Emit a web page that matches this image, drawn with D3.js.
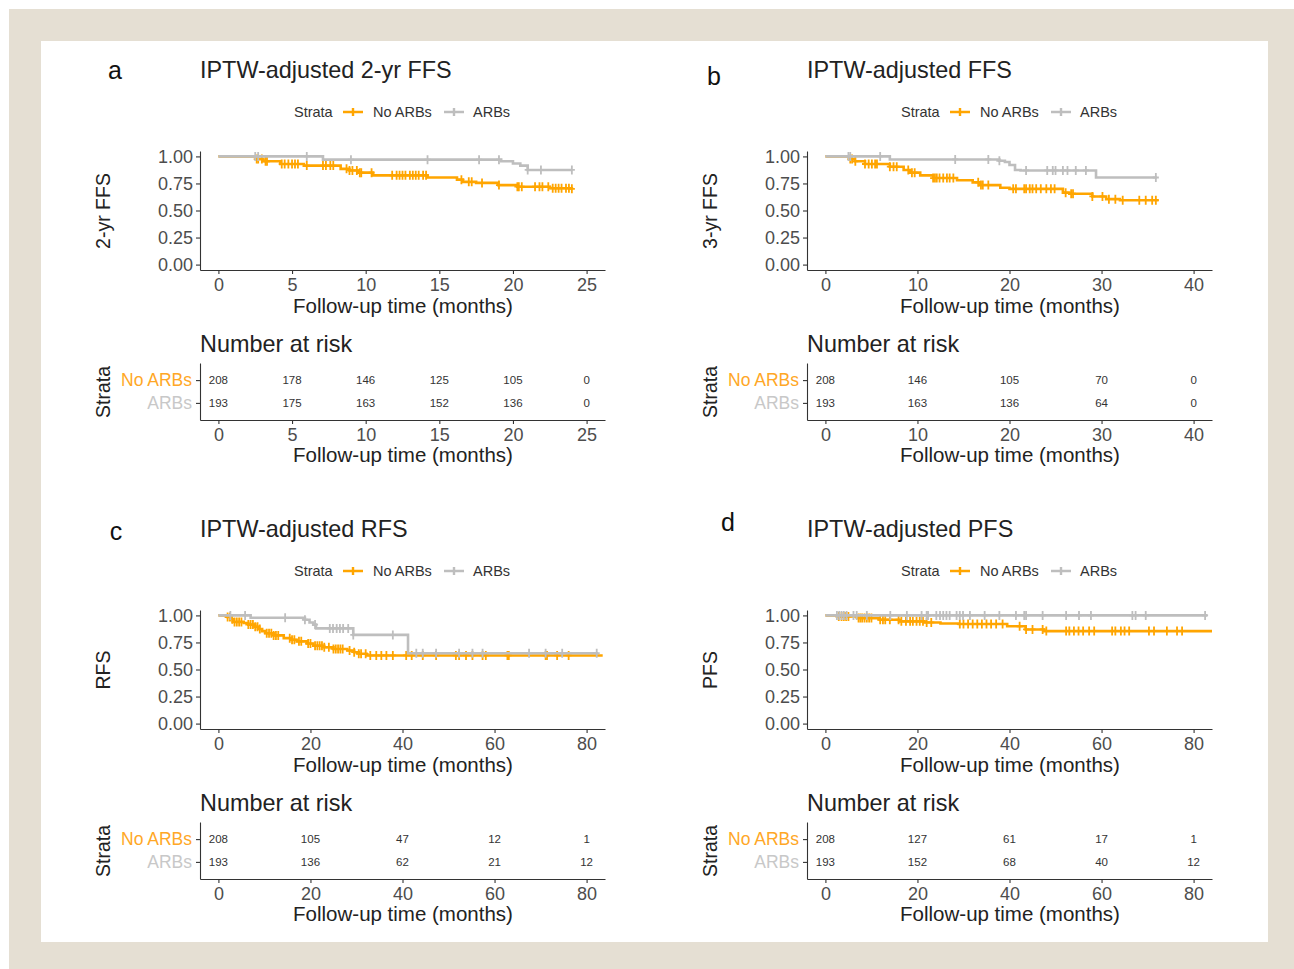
<!DOCTYPE html>
<html>
<head>
<meta charset="utf-8">
<script src="https://cdn.jsdelivr.net/npm/d3@7"></script>
<style>
body { margin: 0; background: #fff; }
text { font-family: "Liberation Sans", Arial, sans-serif; }
</style>
</head>
<body>
<div id="chart"></div>
<script>

// ---- data ----
var strata = ["No ARBs", "ARBs"];

// panel a : 2-yr FFS
var aXTicks = [0, 5, 10, 15, 20, 25];
var aNoSteps = [[0,1],[2.6,0.975],[3.0,0.955],[4.2,0.93],[5.8,0.915],[8.3,0.885],[8.9,0.87],[9.5,0.85],[10.5,0.825],[14.2,0.805],[16.2,0.785],[16.6,0.765],[17.5,0.755],[19.0,0.735],[20.3,0.72],[22.5,0.705],[24,0.70]];
var aNoCensor = [2.6,2.7,2.95,3.2,3.3,4.3,4.5,4.75,5.0,5.2,5.4,6.0,7.1,7.3,7.6,7.8,8.7,8.9,9.1,9.4,9.6,9.7,10.4,11.8,12.1,12.3,12.5,12.7,13.0,13.2,13.4,13.6,13.9,14.1,16.5,17.0,17.2,17.9,19.05,20.3,20.4,20.6,21.5,21.8,22.0,22.4,22.7,22.9,23.1,23.3,23.6,23.8,24.0];
var aArbSteps = [[0,1],[7.1,0.97],[19.2,0.955],[20.0,0.935],[20.5,0.915],[21.0,0.875],[24,0.875]];
var aArbCensor = [2.5,2.7,6.0,9.0,14.2,17.7,19.05,21.0,21.9,24.0];
var aRiskNo = [208, 178, 146, 125, 105, 0];
var aRiskArb = [193, 175, 163, 152, 136, 0];

// panel b : FFS (3-yr)
var bXTicks = [0, 10, 20, 30, 40];
var bNoSteps = [[0,1],[2.7,0.975],[3.2,0.955],[4.3,0.93],[7.0,0.905],[8.5,0.875],[9.2,0.85],[10.3,0.825],[11.7,0.8],[14.3,0.78],[16.0,0.76],[16.8,0.735],[19.0,0.71],[20.0,0.70],[25.8,0.665],[26.5,0.655],[29.0,0.63],[30.5,0.605],[32.0,0.595],[36.2,0.595]];
var bNoCensor = [2.7,2.9,3.25,4.3,4.7,5.05,5.4,5.6,7.0,7.4,7.75,9.0,9.4,9.7,11.7,11.9,12.1,12.4,12.8,13.2,13.5,13.9,16.6,16.9,17.1,17.7,20.4,20.7,21.6,21.8,22.2,22.5,22.9,23.4,24.0,24.5,24.9,26.1,26.7,26.9,29.0,30.1,30.8,31.5,32.3,34.1,34.8,35.5,35.9];
var bArbSteps = [[0,1],[7.0,0.972],[18.9,0.96],[19.5,0.948],[20.0,0.92],[20.6,0.875],[21.2,0.87],[29.4,0.805],[36,0.805]];
var bArbCensor = [2.5,2.7,5.95,14.1,17.7,18.9,21.8,24.1,24.7,25.0,25.8,26.3,27.2,28.3,35.9];
var bRiskNo = [208, 146, 105, 70, 0];
var bRiskArb = [193, 163, 136, 64, 0];

// panel c : RFS
var cXTicks = [0, 20, 40, 60, 80];
var cNoSteps = [[0,1],[1.9,0.985],[2.6,0.965],[3.3,0.94],[5.5,0.93],[6.5,0.915],[8.0,0.895],[8.6,0.875],[9.5,0.855],[10.2,0.835],[12.0,0.815],[14.2,0.79],[15.8,0.775],[17.0,0.76],[19.2,0.74],[20.6,0.72],[23,0.705],[25,0.69],[28,0.675],[29.5,0.66],[30.5,0.645],[32.2,0.63],[83.5,0.63]];
var cNoCensor = [2.0,2.5,3.0,3.5,4.0,4.5,5.0,6.5,7.0,7.5,8.0,8.5,9.0,10.5,11.0,11.5,12.0,12.5,13.0,15.5,16.0,16.5,17.5,18.0,19.5,20.0,21.0,21.5,22.0,22.5,23.0,24.0,25.0,25.5,26.0,26.5,27.0,28.5,29.5,30.5,31.0,32.0,33.0,34.3,35.4,36.5,37.9,40.8,42.0,44.4,47.3,51.6,52.3,53.8,55.2,57.4,58.1,62.8,63.1,71.1,71.4,73.6,76.1];
var cArbSteps = [[0,1],[7.0,0.978],[18.8,0.96],[19.8,0.935],[20.6,0.915],[21.2,0.88],[29.3,0.82],[41.2,0.65],[82.5,0.65]];
var cArbCensor = [2.6,5.8,14.5,18.8,21.0,24.2,24.9,25.7,26.4,27.1,28.2,29.3,37.9,43.0,44.4,47.3,52.3,55.2,57.4,67.5,71.1,74.7,82.2];
var cRiskNo = [208, 105, 47, 12, 1];
var cRiskArb = [193, 136, 62, 21, 12];

// panel d : PFS
var dXTicks = [0, 20, 40, 60, 80];
var dNoSteps = [[0,1],[2.5,0.99],[7.0,0.975],[11.8,0.96],[16,0.945],[21.5,0.935],[25,0.925],[29,0.92],[39.5,0.9],[43.5,0.87],[47.5,0.855],[84,0.855]];
var dNoCensor = [2.9,3.5,4.0,4.5,5.0,7.2,7.6,8.0,8.5,9.0,9.5,10.0,11.9,12.5,13.0,14.0,15.9,16.5,17.5,18.4,19.0,19.8,20.5,21.2,22.0,23.0,29.2,30.0,31.0,32.0,33.0,34.0,35.0,36.0,37.1,38.5,42.2,43.6,45.0,47.2,48.0,52.3,53.0,54.0,55.0,56.0,57.3,58.4,62.3,63.0,64.2,65.0,66.0,70.3,71.4,74.2,76.4,77.5];
var dArbSteps = [[0,1],[83,1]];
var dArbCensor = [2.5,3.0,3.5,4.0,4.6,6.1,6.8,9.0,14.1,17.7,20.9,22.0,22.3,24.1,24.9,25.6,26.3,27.0,28.5,29.2,29.9,31.4,34.6,37.8,41.4,43.2,43.6,47.2,52.3,55.1,57.7,66.7,67.4,69.6,82.5];
var dRiskNo = [208, 127, 61, 17, 1];
var dRiskArb = [193, 152, 68, 40, 12];

var yTicks = [0, 0.25, 0.5, 0.75, 1];

var colors = { "No ARBs": "#FFA500", "ARBs": "#BEBEBE" };
var labelColors = { "No ARBs": "#FFA726", "ARBs": "#C8C8C8" };

// ---- page ----
var W = 1294, H = 969;
var svg = d3.select("#chart").append("svg")
  .attr("width", W).attr("height", H);

svg.append("rect").attr("x", 9).attr("y", 9).attr("width", W - 9).attr("height", H - 9).attr("fill", "#E5DFD3");
svg.append("rect").attr("x", 41).attr("y", 41).attr("width", 1227).attr("height", 901).attr("fill", "#fff");

var panels = [
  { dx: 0,   dy: 0,   letter: "a", lx: 115, ly: 70,  title: "IPTW-adjusted 2-yr FFS", ylab: "2-yr FFS", ticks: aXTicks,
    no: aNoSteps, noC: aNoCensor, arb: aArbSteps, arbC: aArbCensor, riskNo: aRiskNo, riskArb: aRiskArb },
  { dx: 607, dy: 0,   letter: "b", lx: 107, ly: 76,  title: "IPTW-adjusted FFS", ylab: "3-yr FFS", ticks: bXTicks,
    no: bNoSteps, noC: bNoCensor, arb: bArbSteps, arbC: bArbCensor, riskNo: bRiskNo, riskArb: bRiskArb },
  { dx: 0,   dy: 459, letter: "c", lx: 116, ly: 72,  title: "IPTW-adjusted RFS", ylab: "RFS", ticks: cXTicks,
    no: cNoSteps, noC: cNoCensor, arb: cArbSteps, arbC: cArbCensor, riskNo: cRiskNo, riskArb: cRiskArb },
  { dx: 607, dy: 459, letter: "d", lx: 121, ly: 63,  title: "IPTW-adjusted PFS", ylab: "PFS", ticks: dXTicks,
    no: dNoSteps, noC: dNoCensor, arb: dArbSteps, arbC: dArbCensor, riskNo: dRiskNo, riskArb: dRiskArb }
];

// value of a step curve at time t
function survAt(steps, t) {
  var v = steps[0][1];
  steps.forEach(function(s) { if (s[0] <= t) v = s[1]; });
  return v;
}

function styleAxis(g, size) {
  g.select(".domain").attr("stroke", "#333").attr("stroke-width", 1.1);
  g.selectAll(".tick line").attr("stroke", "#333").attr("stroke-width", 1.1);
  g.selectAll(".tick text").attr("fill", "#4D4D4D").style("font-size", size + "px")
    .style("font-family", '"Liberation Sans", Arial, sans-serif');
}

panels.forEach(function(p) {
  var g = svg.append("g").attr("transform", "translate(" + p.dx + "," + p.dy + ")");
  var xmax = p.ticks[p.ticks.length - 1];

  var x = d3.scaleLinear().domain([-0.05 * xmax, 1.05 * xmax]).range([200, 605]);
  var y = d3.scaleLinear().domain([-0.05, 1.05]).range([270, 151]);

  // letter + title
  g.append("text").attr("x", p.lx).attr("y", p.ly).attr("dy", "0.35em")
    .attr("text-anchor", "middle").style("font-size", "25px").attr("fill", "#111").text(p.letter);
  g.append("text").attr("x", 200).attr("y", 70).attr("dy", "0.35em")
    .style("font-size", "23.4px").attr("fill", "#222").text(p.title);

  // legend
  var leg = g.append("g").attr("transform", "translate(0,112)");
  leg.append("text").attr("x", 294).attr("y", 0).attr("dy", "0.35em")
    .style("font-size", "14.5px").attr("fill", "#333").text("Strata");
  var legItems = [{ k: "No ARBs", x0: 343, tx: 373 }, { k: "ARBs", x0: 444, tx: 473 }];
  legItems.forEach(function(it) {
    leg.append("path").attr("d", "M" + it.x0 + ",0H" + (it.x0 + 20) + "M" + (it.x0 + 10) + ",-4V4")
      .attr("stroke", colors[it.k]).attr("stroke-width", 2.4).attr("fill", "none");
    leg.append("text").attr("x", it.tx).attr("y", 0).attr("dy", "0.35em")
      .style("font-size", "14.5px").attr("fill", "#333").text(it.k);
  });

  // curves
  var line = d3.line().x(function(d) { return x(d[0]); }).y(function(d) { return y(d[1]); }).curve(d3.curveStepAfter);
  var series = [
    { k: "No ARBs", steps: p.no, cens: p.noC },
    { k: "ARBs", steps: p.arb, cens: p.arbC }
  ];
  series.forEach(function(s) {
    g.append("path").datum(s.steps).attr("d", line)
      .attr("fill", "none").attr("stroke", colors[s.k]).attr("stroke-width", 2.6);
    g.selectAll(null).data(s.cens).enter().append("path")
      .attr("d", function(t) {
        var cx = x(t), cy = y(survAt(s.steps, t));
        return "M" + (cx - 3) + "," + cy + "H" + (cx + 3) + "M" + cx + "," + (cy - 4.5) + "V" + (cy + 4.5);
      })
      .attr("stroke", colors[s.k]).attr("stroke-width", 1.8).attr("fill", "none");
  });

  // axes
  var gy = g.append("g").attr("transform", "translate(200,0)")
    .call(d3.axisLeft(y).tickValues(yTicks).tickFormat(d3.format(".2f")).tickSize(4).tickSizeOuter(0).tickPadding(3));
  styleAxis(gy, 18);
  var gx = g.append("g").attr("transform", "translate(0,270)")
    .call(d3.axisBottom(x).tickValues(p.ticks).tickFormat(d3.format("d")).tickSize(4).tickSizeOuter(0).tickPadding(4));
  styleAxis(gx, 18);

  g.append("text").attr("x", 403).attr("y", 306).attr("dy", "0.35em").attr("text-anchor", "middle")
    .style("font-size", "20.5px").attr("fill", "#222").text("Follow-up time (months)");
  g.append("text").attr("transform", "translate(103,211) rotate(-90)").attr("dy", "0.35em")
    .attr("text-anchor", "middle").style("font-size", "19.5px").attr("fill", "#222").text(p.ylab);

  // risk table
  g.append("text").attr("x", 200).attr("y", 344).attr("dy", "0.35em")
    .style("font-size", "23.4px").attr("fill", "#222").text("Number at risk");

  var yr = d3.scalePoint().domain(strata).range([363, 420]).padding(0.75);
  var rows = [{ k: "No ARBs", vals: p.riskNo }, { k: "ARBs", vals: p.riskArb }];
  rows.forEach(function(r) {
    g.selectAll(null).data(r.vals).enter().append("text")
      .attr("x", function(d, i) { return x(p.ticks[i]); })
      .attr("y", yr(r.k)).attr("dy", "0.35em").attr("text-anchor", "middle")
      .style("font-size", "11.5px").attr("fill", "#333").text(function(d) { return d; });
  });

  var gyr = g.append("g").attr("transform", "translate(200,0)")
    .call(d3.axisLeft(yr).tickSize(4).tickSizeOuter(0).tickPadding(4));
  styleAxis(gyr, 17.5);
  gyr.selectAll(".tick text").attr("fill", function(d) { return labelColors[d]; });

  var gxr = g.append("g").attr("transform", "translate(0,420)")
    .call(d3.axisBottom(x).tickValues(p.ticks).tickFormat(d3.format("d")).tickSize(4).tickSizeOuter(0).tickPadding(4));
  styleAxis(gxr, 18);

  g.append("text").attr("x", 403).attr("y", 455).attr("dy", "0.35em").attr("text-anchor", "middle")
    .style("font-size", "20.5px").attr("fill", "#222").text("Follow-up time (months)");
  g.append("text").attr("transform", "translate(103,392) rotate(-90)").attr("dy", "0.35em")
    .attr("text-anchor", "middle").style("font-size", "19.5px").attr("fill", "#222").text("Strata");
});

</script>
</body>
</html>
